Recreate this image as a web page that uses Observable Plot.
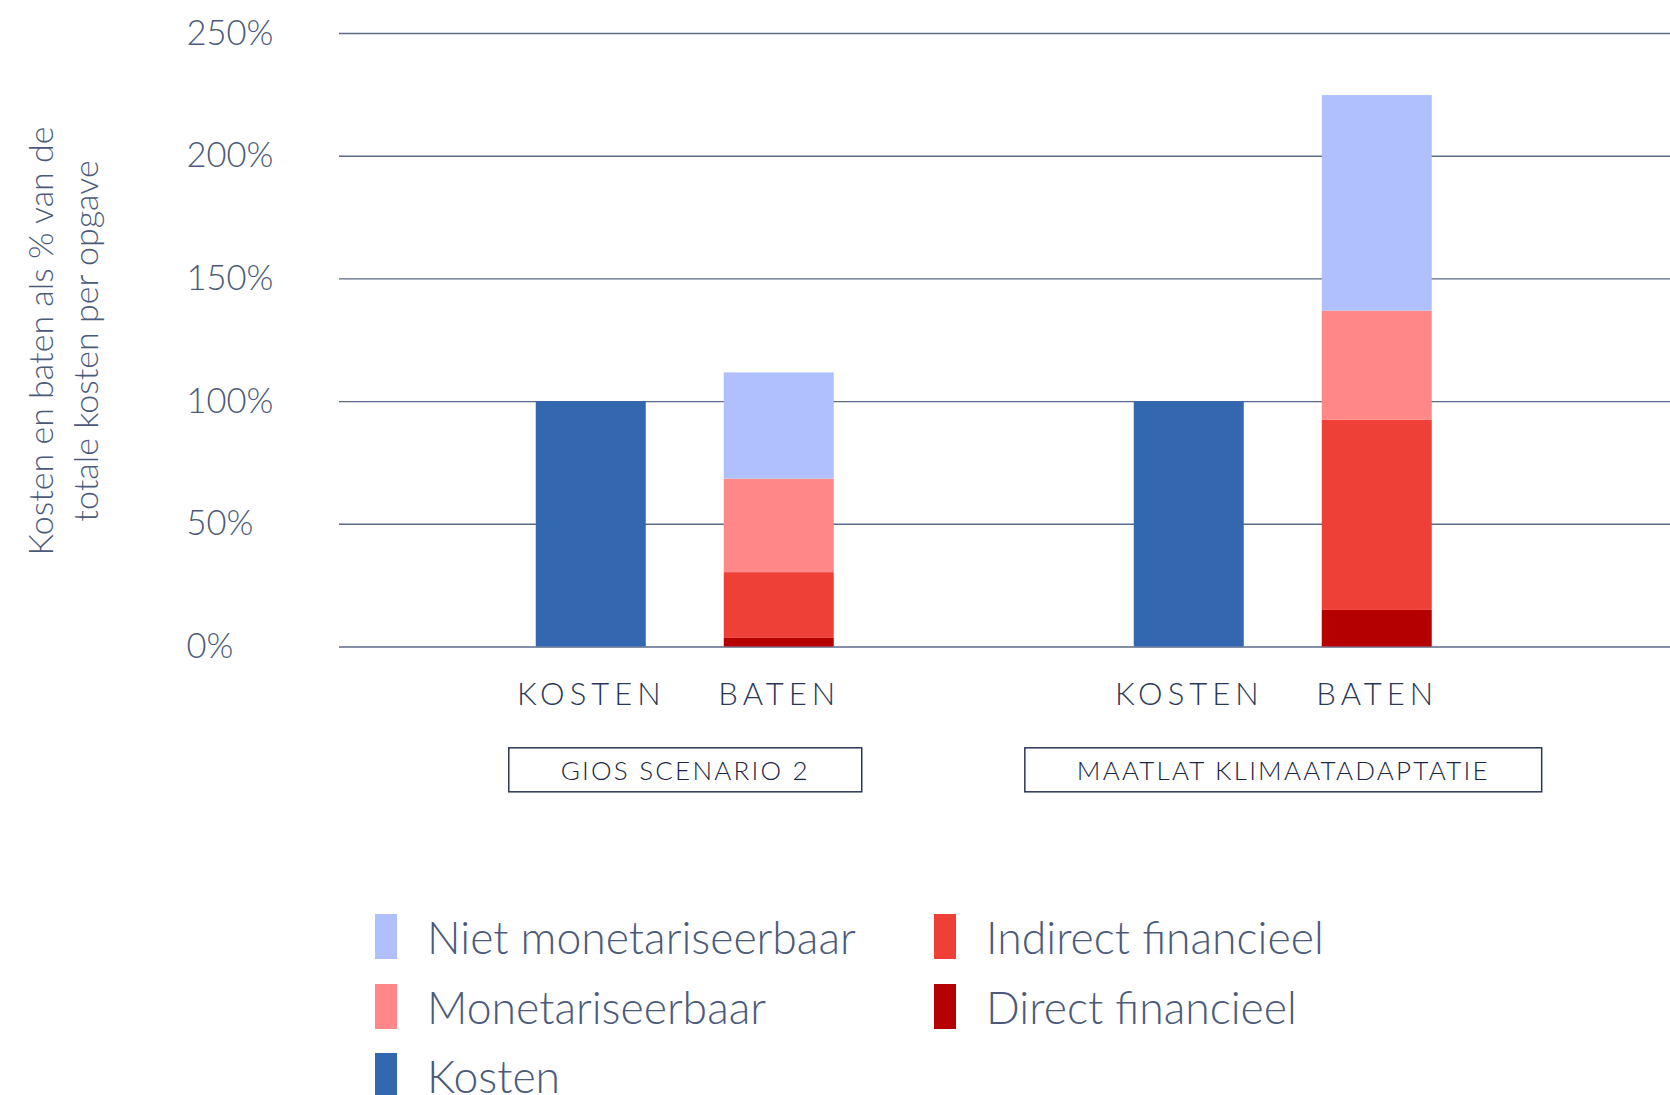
<!DOCTYPE html>
<html>
<head>
<meta charset="utf-8">
<script src="https://cdn.jsdelivr.net/npm/d3@7"></script>
<script src="https://cdn.jsdelivr.net/npm/@observablehq/plot@0.6"></script>
<style>
  body { margin: 0; background: #fff; }
  #wrap { position: relative; width: 1670px; height: 1095px; overflow: hidden;
          font-family: Lato, "Open Sans", sans-serif; font-weight: 300; color: #4b5a7a; }
  #grid, #chart { position: absolute; left: 0; top: 0; }
  #ytitle { position: absolute; left: -188px; top: 296px; width: 500px; height: 90px;
            line-height: 45px; font-size: 34px; text-align: center; transform: rotate(-90deg);
            white-space: nowrap; }
  #legend { position: absolute; left: 375px; top: 902px; display: grid;
            grid-template-rows: repeat(3, 69.5px); grid-auto-flow: column;
            grid-template-columns: 559px 559px; }
  .item { display: flex; align-items: center; font-size: 44.5px; white-space: nowrap; }
  .sw { width: 22px; height: 45px; margin-right: 30px; flex: none; }
  .xlab text { letter-spacing: 5px; }
  .grouplabel text { letter-spacing: 2.2px; }
</style>
</head>
<body>
<div id="wrap">
  <div id="grid"></div>
  <div id="chart"></div>
  <div id="ytitle">Kosten en baten als % van de<br>totale kosten per opgave</div>
  <div id="legend"></div>
</div>
<script>
// ---- data ----
const groups = ["GIOS SCENARIO 2", "MAATLAT KLIMAATADAPTATIE"];
const barTypes = ["KOSTEN", "BATEN"];
const kosten = [100, 100];
const directFinancieel = [3.5, 14.9];
const indirectFinancieel = [26.8, 77.5];
const monetariseerbaar = [38.1, 44.5];
const nietMonetariseerbaar = [43.3, 87.8];
const benefitCategories = ["Direct financieel", "Indirect financieel", "Monetariseerbaar", "Niet monetariseerbaar"];
const yTicks = [0, 50, 100, 150, 200, 250];
const legendOrder = ["Niet monetariseerbaar", "Monetariseerbaar", "Kosten", "Indirect financieel", "Direct financieel"];
const legendColors = ["#b0c0fe", "#ff8788", "#3368b1", "#ee4036", "#b50000"];

const benefitSeries = [directFinancieel, indirectFinancieel, monetariseerbaar, nietMonetariseerbaar];
const rows = [];
groups.forEach((g, i) => {
  rows.push({group: g, type: "KOSTEN", category: "Kosten", value: kosten[i]});
  benefitCategories.forEach((c, j) => rows.push({group: g, type: "BATEN", category: c, value: benefitSeries[j][i]}));
});
const labelRows = groups.flatMap(g => barTypes.map(t => ({group: g, type: t})));

const textColor = "#4b5a7a";
const W = 1670, H = 820;
const margins = {marginLeft: 339, marginRight: 0, marginTop: 33, marginBottom: 173.5};
const font = "Lato, 'Open Sans', sans-serif";

// background layer: gridlines and y tick labels across the full frame
const grid = Plot.plot({
  width: W, height: H, ...margins,
  style: {fontFamily: font, fontWeight: 300, background: "white", overflow: "visible"},
  x: {axis: null},
  y: {domain: [0, 250], axis: null},
  marks: [
    Plot.ruleY(yTicks, {stroke: "#5b6a88", strokeWidth: 1.4}),
    Plot.text(yTicks, {y: d => d, text: d => d + "%", frameAnchor: "left",
      dx: -153, textAnchor: "start", lineAnchor: "middle", fontSize: 34.5, fill: textColor})
  ]
});
document.getElementById("grid").append(grid);

// foreground layer: faceted stacked bars
const chart = Plot.plot({
  width: W, height: H, ...margins,
  style: {fontFamily: font, fontWeight: 300, background: "transparent", overflow: "visible"},
  fx: {domain: groups, paddingInner: 0.3311, paddingOuter: 0.27843, align: 0.4377, round: false, axis: null},
  x: {domain: barTypes, paddingInner: 0.4149, paddingOuter: 0.2713, round: false, axis: null},
  y: {domain: [0, 250], axis: null},
  color: {domain: legendOrder, range: legendColors},
  marks: [
    Plot.barY(rows, {fx: "group", x: "type", y: "value", fill: "category"}),
    Plot.text(labelRows, {fx: "group", x: "type", text: "type", frameAnchor: "bottom",
      dy: 48.5, lineAnchor: "middle", fontSize: 31, fill: "#2a3858", className: "xlab"}),
    Plot.text(groups, {fx: d => d, text: d => d, frameAnchor: "bottom", dy: 124.5,
      lineAnchor: "middle", fontSize: 26, fontWeight: 300, fill: "#1a2642", className: "grouplabel"})
  ]
});
document.getElementById("chart").append(chart);

// boxes around group labels
d3.select(chart).selectAll(".grouplabel text").each(function() {
  const b = this.getBBox();
  const padX = 52;
  const cy = b.y + b.height / 2;
  const r = document.createElementNS("http://www.w3.org/2000/svg", "rect");
  r.setAttribute("x", b.x - padX);
  r.setAttribute("y", cy - 22);
  r.setAttribute("width", b.width + 2 * padX);
  r.setAttribute("height", 44);
  r.setAttribute("fill", "none");
  r.setAttribute("stroke", "#2a3754");
  r.setAttribute("stroke-width", 1.5);
  const t = this.getAttribute("transform");
  if (t) r.setAttribute("transform", t);
  this.parentNode.insertBefore(r, this);
});

// legend
const legend = document.getElementById("legend");
legendOrder.forEach((name, i) => {
  const item = document.createElement("div");
  item.className = "item";
  const sw = document.createElement("div");
  sw.className = "sw";
  sw.style.background = legendColors[i];
  item.append(sw, document.createTextNode(name));
  legend.append(item);
});
</script>
</body>
</html>
